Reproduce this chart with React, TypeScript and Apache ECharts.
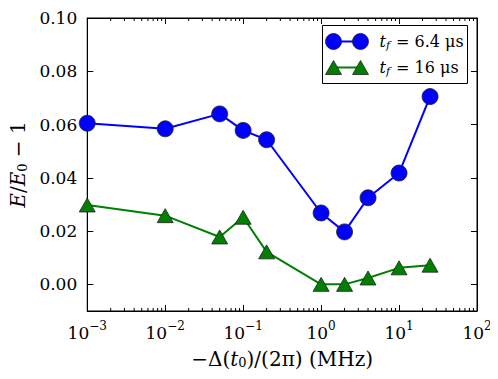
import React, { useEffect, useRef } from "react";
import * as echarts from "echarts";

const freqs = [0.001, 0.01, 0.05, 0.1, 0.2, 1, 2, 4, 10, 25];
const blueValues = [0.0605, 0.0584, 0.064, 0.0578, 0.0543, 0.0268, 0.0197, 0.0325, 0.0418, 0.0705];
const greenValues = [0.0298, 0.0258, 0.0178, 0.0252, 0.0122, 0.0, 0.0, 0.0024, 0.0062, 0.0072];
const minorTicks = [2, 3, 4, 5, 6, 7, 8, 9].flatMap((m) => [1e-3, 1e-2, 1e-1, 1, 10].map((d) => m * d));

const SERIF = "DejaVu Serif";

export default function App() {
  const ref = useRef<HTMLDivElement>(null);
  useEffect(() => {
    const chart = echarts.init(ref.current!, null, { renderer: "svg" });
    const yMin = -0.01, yMax = 0.1;
    const legendText = (val: string) => ({
      type: "text",
      style: {
        text: `{i|t}{sub|f}{n| = ${val} }{n|μs}`,
        fontFamily: SERIF,
        rich: {
          i: { fontFamily: SERIF, fontStyle: "italic", fontSize: 16, fill: "#000" },
          sub: { fontFamily: SERIF, fontStyle: "italic", fontSize: 11, fill: "#000", padding: [7, 1, 0, 0] },
          n: { fontFamily: SERIF, fontSize: 16, fill: "#000" },
        },
        verticalAlign: "middle",
      },
    });
    chart.setOption({
      animation: false,
      textStyle: { fontFamily: SERIF },
      grid: { left: 84, right: 21, top: 18, bottom: 68, show: true, borderColor: "#000", borderWidth: 1, backgroundColor: "#fff" },
      xAxis: [
        {
          type: "log",
          logBase: 10,
          min: 0.001,
          max: 100,
          position: "bottom",
          axisLine: { onZero: false, lineStyle: { color: "#000", width: 1 } },
          axisTick: { inside: true, length: 6, lineStyle: { color: "#000" } },
          splitLine: { show: false },
          axisLabel: {
            margin: 6,
            fontFamily: SERIF,
            formatter: (v: number) => {
              const e = Math.round(Math.log10(v));
              return `{b|10}{s|${e < 0 ? "−" + -e : e}}`;
            },
            rich: {
              b: { fontFamily: SERIF, fontSize: 17, color: "#000", padding: [7, 0, 0, 0] },
              s: { fontFamily: SERIF, fontSize: 12, color: "#000", padding: [0, 0, 7, 0] },
            },
          },
          name: "{n|−Δ(}{i|t}{sub|0}{n|)/(2π) (MHz)}",
          nameLocation: "middle",
          nameGap: 37,
          nameTextStyle: {
            fontFamily: SERIF,
            rich: {
              n: { fontFamily: SERIF, fontSize: 20, color: "#000" },
              i: { fontFamily: SERIF, fontSize: 20, fontStyle: "italic", color: "#000" },
              sub: { fontFamily: SERIF, fontSize: 13, color: "#000", padding: [8, 0, 0, 0] },
            },
          },
        },
        {
          type: "log",
          logBase: 10,
          min: 0.001,
          max: 100,
          position: "top",
          axisLine: { onZero: false, lineStyle: { color: "#000" } },
          axisTick: { inside: true, length: 6, lineStyle: { color: "#000" } },
          axisLabel: { show: false },
          splitLine: { show: false },
        },
      ],
      yAxis: [
        {
          type: "value",
          min: yMin,
          max: yMax,
          splitNumber: 5,
          axisLine: { show: true, onZero: false, lineStyle: { color: "#000" } },
          axisTick: { show: true, inside: true, length: 6, lineStyle: { color: "#000" } },
          splitLine: { show: false },
          axisLabel: {
            margin: 10,
            fontFamily: SERIF,
            fontSize: 17,
            color: "#000",
            formatter: (v: number) => (v < -0.001 ? "" : v.toFixed(2)),
          },
          name: "{i|E}{n|/}{i|E}{sub|0}{n| − 1}",
          nameLocation: "middle",
          nameRotate: 90,
          nameGap: 53,
          nameTextStyle: {
            fontFamily: SERIF,
            rich: {
              n: { fontFamily: SERIF, fontSize: 20, color: "#000" },
              i: { fontFamily: SERIF, fontSize: 20, fontStyle: "italic", color: "#000" },
              sub: { fontFamily: SERIF, fontSize: 13, color: "#000", padding: [8, 0, 0, 0] },
            },
          },
        },
        {
          type: "value",
          min: yMin,
          max: yMax,
          splitNumber: 5,
          position: "right",
          axisLine: { show: true, onZero: false, lineStyle: { color: "#000" } },
          axisTick: { show: true, inside: true, length: 6, lineStyle: { color: "#000" } },
          splitLine: { show: false },
          axisLabel: { show: false },
        },
      ],
      series: [
        {
          type: "custom",
          silent: true,
          xAxisIndex: 0,
          yAxisIndex: 0,
          data: minorTicks.map((v) => [v, yMin]),
          renderItem: (params: any, api: any) => {
            const v = api.value(0);
            const b = api.coord([v, yMin]);
            const t = api.coord([v, yMax]);
            const st = { stroke: "#000", lineWidth: 1 };
            return {
              type: "group",
              children: [
                { type: "line", shape: { x1: b[0], y1: b[1], x2: b[0], y2: b[1] - 3 }, style: st },
                { type: "line", shape: { x1: t[0], y1: t[1], x2: t[0], y2: t[1] + 3 }, style: st },
              ],
            };
          },
        },
        {
          type: "line",
          data: freqs.map((f, i) => [f, blueValues[i]]),
          lineStyle: { color: "#0000ff", width: 2 },
          symbol: "circle",
          symbolSize: 16,
          itemStyle: { color: "#0000ff", borderColor: "#222", borderWidth: 0.8 },
          z: 3,
        },
        {
          type: "line",
          data: freqs.map((f, i) => [f, greenValues[i]]),
          lineStyle: { color: "#008000", width: 2 },
          symbol: "triangle",
          symbolSize: [16, 14],
          itemStyle: { color: "#008000", borderColor: "#222", borderWidth: 0.8 },
          z: 3,
        },
      ],
      graphic: [
        {
          type: "group",
          left: 322,
          top: 25,
          children: [
            { type: "rect", shape: { x: 0, y: 0, width: 145, height: 58 }, style: { fill: "#fff", stroke: "#000", lineWidth: 1 } },
            { type: "line", shape: { x1: 11, y1: 16, x2: 38, y2: 16 }, style: { stroke: "#0000ff", lineWidth: 2 } },
            { type: "circle", shape: { cx: 11, cy: 16, r: 8 }, style: { fill: "#0000ff", stroke: "#222", lineWidth: 0.8 } },
            { type: "circle", shape: { cx: 38, cy: 16, r: 8 }, style: { fill: "#0000ff", stroke: "#222", lineWidth: 0.8 } },
            { type: "line", shape: { x1: 11, y1: 42, x2: 38, y2: 42 }, style: { stroke: "#008000", lineWidth: 2 } },
            { type: "polygon", shape: { points: [[11, 35], [3, 49], [19, 49]] }, style: { fill: "#008000", stroke: "#222", lineWidth: 0.8 } },
            { type: "polygon", shape: { points: [[38, 35], [30, 49], [46, 49]] }, style: { fill: "#008000", stroke: "#222", lineWidth: 0.8 } },
            { ...legendText("6.4"), x: 57, y: 16 },
            { ...legendText("16"), x: 57, y: 42 },
          ],
        },
      ],
    });
    return () => chart.dispose();
  }, []);
  return <div ref={ref} style={{ width: 498, height: 379, margin: -8 }} />;
}
